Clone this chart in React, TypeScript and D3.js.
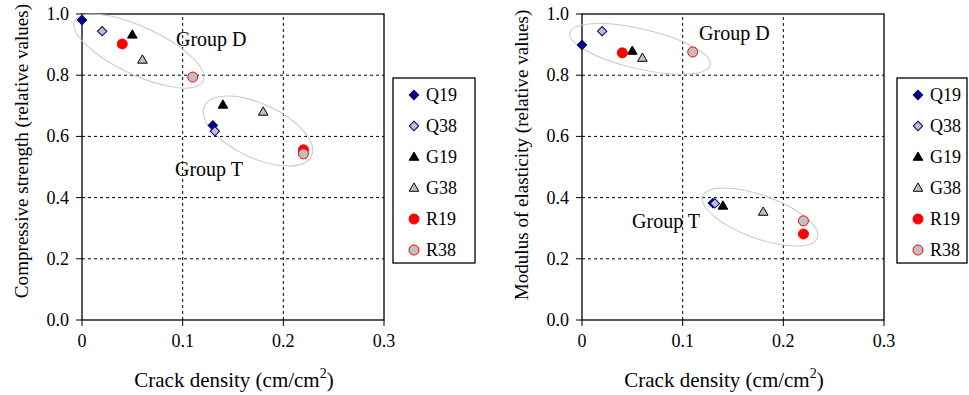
import React from "react";
import * as d3 from "d3";

const seriesNames = ["Q19", "Q38", "G19", "G38", "R19", "R38"];
const crackD = [0, 0.02, 0.05, 0.06, 0.04, 0.11];
const crackT = [0.13, 0.132, 0.14, 0.18, 0.22, 0.22];
const strengthD = [0.98, 0.944, 0.932, 0.85, 0.902, 0.794];
const strengthT = [0.636, 0.617, 0.703, 0.68, 0.556, 0.543];
const modulusD = [0.899, 0.944, 0.879, 0.856, 0.873, 0.876];
const modulusT = [0.382, 0.381, 0.373, 0.353, 0.281, 0.324];
const xTicks = [0, 0.1, 0.2, 0.3];
const xTickLabels = ["0", "0.1", "0.2", "0.3"];
const yTicks = [0, 0.2, 0.4, 0.6, 0.8, 1.0];
const yTickLabels = ["0.0", "0.2", "0.4", "0.6", "0.8", "1.0"];

const FONT = "'Liberation Serif', 'Times New Roman', serif";

const markerStyle: Record<string, { shape: string; fill: string; stroke: string }> = {
  Q19: { shape: "diamond", fill: "#000080", stroke: "#000080" },
  Q38: { shape: "diamond", fill: "#c0c0c0", stroke: "#000080" },
  G19: { shape: "triangle", fill: "#000000", stroke: "#000000" },
  G38: { shape: "triangle", fill: "#c0c0c0", stroke: "#000000" },
  R19: { shape: "circle", fill: "#ff0000", stroke: "#ff0000" },
  R38: { shape: "circle", fill: "#c0c0c0", stroke: "#ff0000" },
};

const diamond = d3.symbol().type(d3.symbolSquare).size(44)();
const triangle = d3.symbol().type(d3.symbolTriangle).size(40)();

function Marker({ name, x, y }: { name: string; x: number; y: number }) {
  const s = markerStyle[name];
  if (s.shape === "circle")
    return <circle cx={x} cy={y} r={5} fill={s.fill} stroke={s.stroke} strokeWidth={1} />;
  if (s.shape === "diamond")
    return (
      <path d={diamond!} transform={`translate(${x},${y}) rotate(45)`} fill={s.fill} stroke={s.stroke} strokeWidth={1} />
    );
  return <path d={triangle!} transform={`translate(${x},${y + 0.5})`} fill={s.fill} stroke={s.stroke} strokeWidth={1} />;
}

type Ellipse = { cx: number; cy: number; rx: number; ry: number; angle: number };
type Label = { text: string; x: number; y: number };

type PanelProps = {
  left: number;
  yTitle: string;
  yTitleY: number;
  xTitleX: number;
  valuesD: number[];
  valuesT: number[];
  ellipses: Ellipse[];
  labels: Label[];
  legendX: number;
  legendW: number;
};

function Panel({ left, yTitle, yTitleY, xTitleX, valuesD, valuesT, ellipses, labels, legendX, legendW }: PanelProps) {
  const x = d3.scaleLinear().domain([0, 0.3]).range([left, left + 302]);
  const y = d3.scaleLinear().domain([0, 1]).range([320, 14]);
  const [x0, x1] = x.range();
  const [y0, y1] = y.range();

  return (
    <g fontFamily={FONT} fill="#000">
      {/* grid */}
      {xTicks.slice(1, -1).map((t) => (
        <line key={"gx" + t} x1={x(t)} x2={x(t)} y1={y0} y2={y1} stroke="#000" strokeWidth={1} strokeDasharray="3,3" />
      ))}
      {yTicks.slice(1, -1).map((t) => (
        <line key={"gy" + t} x1={x0} x2={x1} y1={y(t)} y2={y(t)} stroke="#000" strokeWidth={1} strokeDasharray="3,3" />
      ))}
      <rect x={x0} y={y1} width={x1 - x0} height={y0 - y1} fill="none" stroke="#000" strokeWidth={1.3} />
      {/* ticks */}
      {yTicks.map((t, i) => (
        <g key={"ty" + t}>
          <line x1={x0 - 6} x2={x0} y1={y(t)} y2={y(t)} stroke="#000" />
          <text x={x0 - 13} y={y(t)} dy="0.33em" textAnchor="end" fontSize={18}>
            {yTickLabels[i]}
          </text>
        </g>
      ))}
      {xTicks.map((t, i) => (
        <g key={"tx" + t}>
          <line x1={x(t)} x2={x(t)} y1={y0} y2={y0 + 6} stroke="#000" />
          <text x={x(t)} y={347} textAnchor="middle" fontSize={18}>
            {xTickLabels[i]}
          </text>
        </g>
      ))}
      {/* titles */}
      <text x={xTitleX} y={387} textAnchor="middle" fontSize={21}>
        Crack density (cm/cm
        <tspan fontSize={14} dy={-9}>2</tspan>
        <tspan dy={9}>)</tspan>
      </text>
      <text transform={`translate(${left - 54},${yTitleY}) rotate(-90)`} textAnchor="middle" fontSize={19.1}>
        {yTitle}
      </text>
      {/* group ellipses */}
      {ellipses.map((e, i) => (
        <ellipse
          key={"e" + i}
          cx={0}
          cy={0}
          rx={e.rx}
          ry={e.ry}
          transform={`translate(${x(e.cx)},${y(e.cy)}) rotate(${e.angle})`}
          fill="none"
          stroke="#c8c8c8"
          strokeWidth={1}
        />
      ))}
      {labels.map((l) => (
        <text key={l.text} x={x(l.x)} y={y(l.y)} fontSize={20}>
          {l.text}
        </text>
      ))}
      {/* points */}
      {seriesNames.map((n, i) => (
        <g key={n}>
          <Marker name={n} x={x(crackD[i])} y={y(valuesD[i])} />
          <Marker name={n} x={x(crackT[i])} y={y(valuesT[i])} />
        </g>
      ))}
      {/* legend */}
      <rect x={legendX} y={78} width={legendW} height={185} fill="#fff" stroke="#000" strokeWidth={1.3} />
      {seriesNames.map((n, i) => (
        <g key={"lg" + n}>
          <Marker name={n} x={legendX + 21} y={95 + i * 31} />
          <text x={legendX + 33} y={95 + i * 31} dy="0.35em" fontSize={18}>
            {n}
          </text>
        </g>
      ))}
    </g>
  );
}

export default function App() {
  return (
    <div style={{ position: "absolute", left: 0, top: 0 }}>
      <svg width={969} height={395} style={{ display: "block", background: "#fff" }}>
        <Panel
          left={82}
          yTitle="Compressive strength (relative values)"
          yTitleY={151}
          xTitleX={234}
          valuesD={strengthD}
          valuesT={strengthT}
          ellipses={[
            { cx: 0.0566, cy: 0.879, rx: 71, ry: 24, angle: 25 },
            { cx: 0.1748, cy: 0.6176, rx: 59, ry: 27, angle: 25 },
          ]}
          labels={[
            { text: "Group D", x: 0.0934, y: 0.895 },
            { text: "Group T", x: 0.0924, y: 0.47 },
          ]}
          legendX={393}
          legendW={82}
        />
        <Panel
          left={582}
          yTitle="Modulus of elasticity (relative values)"
          yTitleY={155}
          xTitleX={724}
          valuesD={modulusD}
          valuesT={modulusT}
          ellipses={[
            { cx: 0.0576, cy: 0.886, rx: 72, ry: 20, angle: 13 },
            { cx: 0.1768, cy: 0.3366, rx: 61, ry: 21.5, angle: 20 },
          ]}
          labels={[
            { text: "Group D", x: 0.1163, y: 0.915 },
            { text: "Group T", x: 0.0497, y: 0.3 },
          ]}
          legendX={897}
          legendW={70}
        />
      </svg>
    </div>
  );
}
